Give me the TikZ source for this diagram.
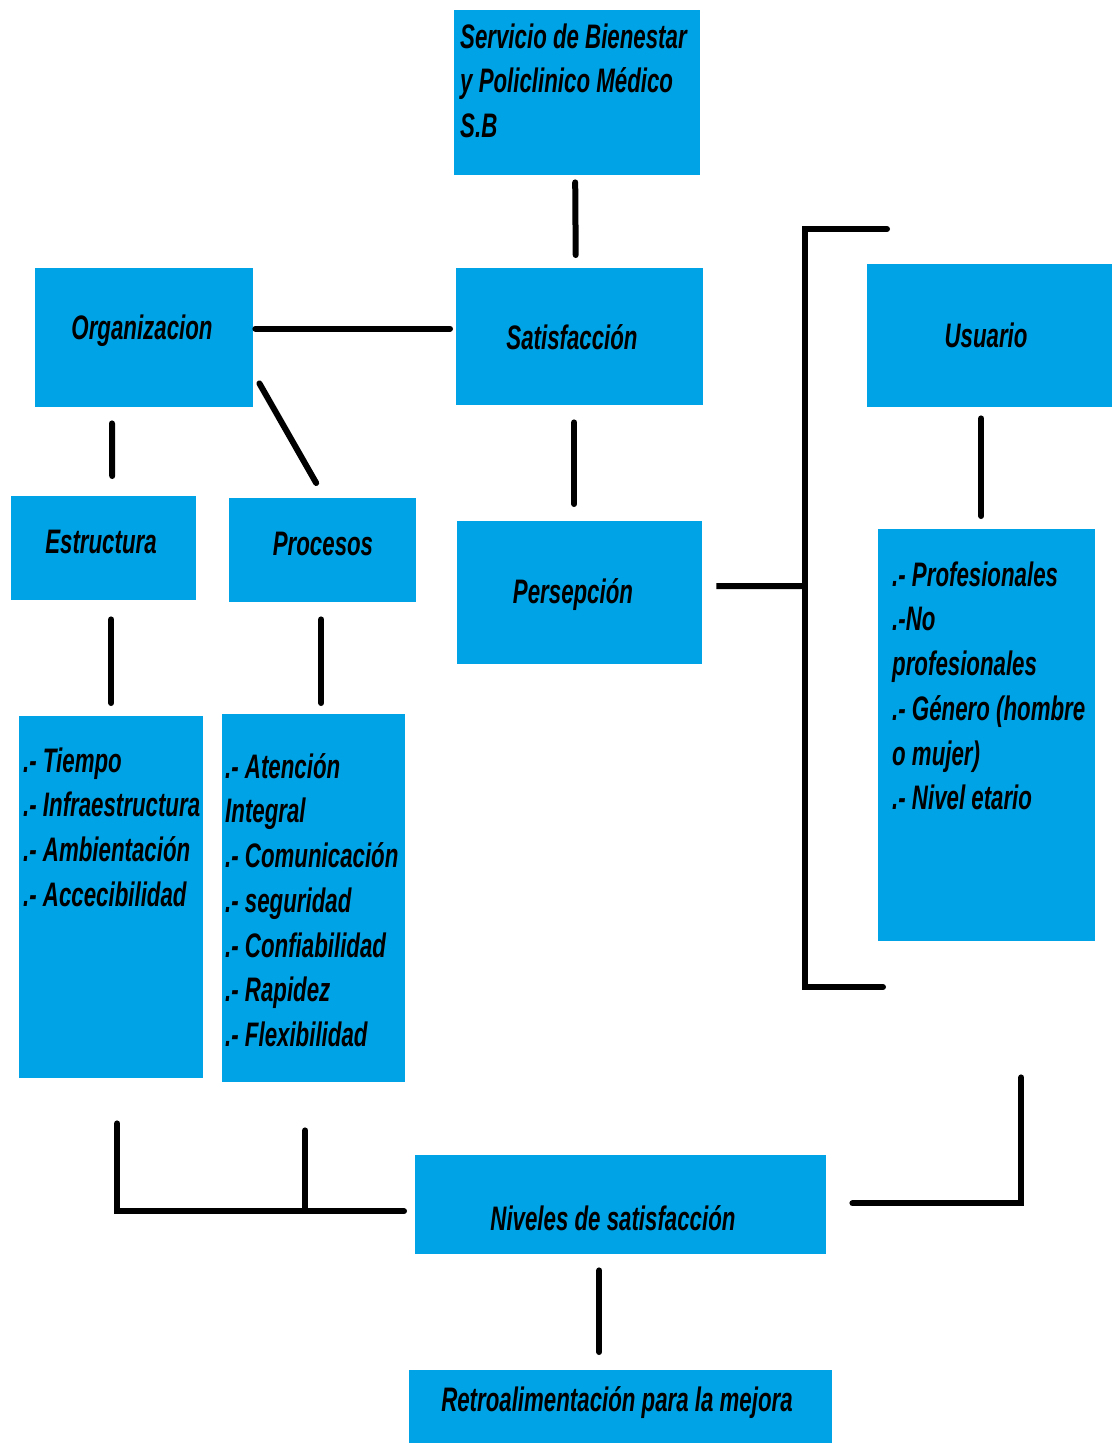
\documentclass[tikz,border=0pt]{standalone}
\usepackage{fontspec}
\newfontfamily\lblfont{Liberation Sans}[FakeStretch=0.655]
\usetikzlibrary{calc}
\definecolor{boxblue}{RGB}{0,163,230}
\tikzset{
  box/.style={fill=boxblue, draw=none, anchor=north west, inner sep=0pt},
  lbl/.style={font=\lblfont\bfseries\itshape\fontsize{34}{44.7}\selectfont, inner sep=0pt, text=black},
  lst/.style={lbl, align=left, anchor=north west},
  conn/.style={line width=6pt, line cap=round, line join=miter, draw=black}
}
\begin{document}
\begin{tikzpicture}[x=1pt,y=-1pt]
\useasboundingbox (0,0) rectangle (1112,1443);
% boxes
\node[box, minimum width=246, minimum height=165] (serv) at (454,10) {};
\node[box, minimum width=247, minimum height=137] (sat) at (456,268) {};
\node[box, minimum width=218, minimum height=139] (org) at (35,268) {};
\node[box, minimum width=245, minimum height=143] (usu) at (867,264) {};
\node[box, minimum width=185, minimum height=104] (est) at (11,496) {};
\node[box, minimum width=187, minimum height=104] (pro) at (229,498) {};
\node[box, minimum width=245, minimum height=143] (per) at (457,521) {};
\node[box, minimum width=184, minimum height=362] (tie) at (19,716) {};
\node[box, minimum width=183, minimum height=368] (ate) at (222,714) {};
\node[box, minimum width=217, minimum height=412] (prof) at (878,529) {};
\node[box, minimum width=411, minimum height=99] (niv) at (415,1155) {};
\node[box, minimum width=423, minimum height=73] (ret) at (409,1370) {};
% texts
\node[lst] (servT) at (460,22) {\rule{0pt}{26pt}Servicio de Bienestar\\y Policlinico Médico\\S.B};
\node[lbl] (satT) at (572,337) {Satisfacción};
\node[lbl] (orgT) at (142,331) {Organizacion};
\node[lbl] (usuT) at (986,335) {Usuario};
\node[lbl] (estT) at (101,542) {Estructura};
\node[lbl] (proT) at (323,544) {Procesos};
\node[lbl] (perT) at (573,595) {Persepción};
\node[lst] (tieT) at (23,746) {\rule{0pt}{26pt}.- Tiempo\\.- Infraestructura\\.- Ambientación\\.- Accecibilidad};
\node[lst] (ateT) at (225,752) {\rule{0pt}{26pt}.- Atención\\Integral\\.- Comunicación\\.- seguridad\\.- Confiabilidad\\.- Rapidez\\.- Flexibilidad};
\node[lst] (profT) at (892,560) {\rule{0pt}{26pt}.- Profesionales\\.-No\\profesionales\\.- Género (hombre\\o mujer)\\.- Nivel etario};
\node[lbl] (nivT) at (613,1218) {Niveles de satisfacción};
\node[lbl] (retT) at (617,1403) {Retroalimentación para la mejora};
% bracket coordinates
\coordinate (btr) at (887,229);
\coordinate (bt) at (805,229);
\coordinate (bm) at (805,586);
\coordinate (bb) at (805,987);
\coordinate (bbr) at (883,987);
% connectors
\draw[conn] ($(serv.south)+(-2,7)$) -- ($(sat.north)+(-4,-13)$);
\draw[conn] ($(org.east)+(2,-9)$) -- ($(sat.west)+(-6,-8)$);
\draw[conn] ($(org.south east)+(6,-24)$) -- ($(pro.north)+(-6.5,-15)$);
\draw[conn] ($(org.south west)+(77,16)$) -- ($(est.north)+(8.5,-20)$);
\draw[conn] ($(sat.south)+(-5.5,17)$) -- ($(per.north)+(-5.5,-17)$);
\draw[conn] (btr) -- (bt) -- (bb) -- (bbr);
\draw[conn, line cap=butt] ($(per.east)+(14,-6.5)$) -- (bm);
\draw[conn] ($(usu.south)+(-8.5,11)$) -- ($(prof.north)+(-5.5,-13)$);
\draw[conn] ($(est.south)+(7.5,19)$) -- ($(tie.north)+(0,-13)$);
\draw[conn] ($(pro.south)+(-1.5,17)$) -- ($(ate.north)+(7.5,-11)$);
\draw[conn] ($(tie.south)+(6,45)$) |- ($(niv.west)+(-11,6.5)$);
\draw[conn] ($(ate.south)+(-8.5,48)$) -- ($(ate.south)+(-8.5,126)$);
\draw[conn] ($(niv.east)+(26,-1.5)$) -| ($(prof.south)+(34.5,136)$);
\draw[conn] ($(niv.south)+(-21.5,16)$) -- ($(ret.north)+(-21.5,-18)$);
\end{tikzpicture}
\end{document}
